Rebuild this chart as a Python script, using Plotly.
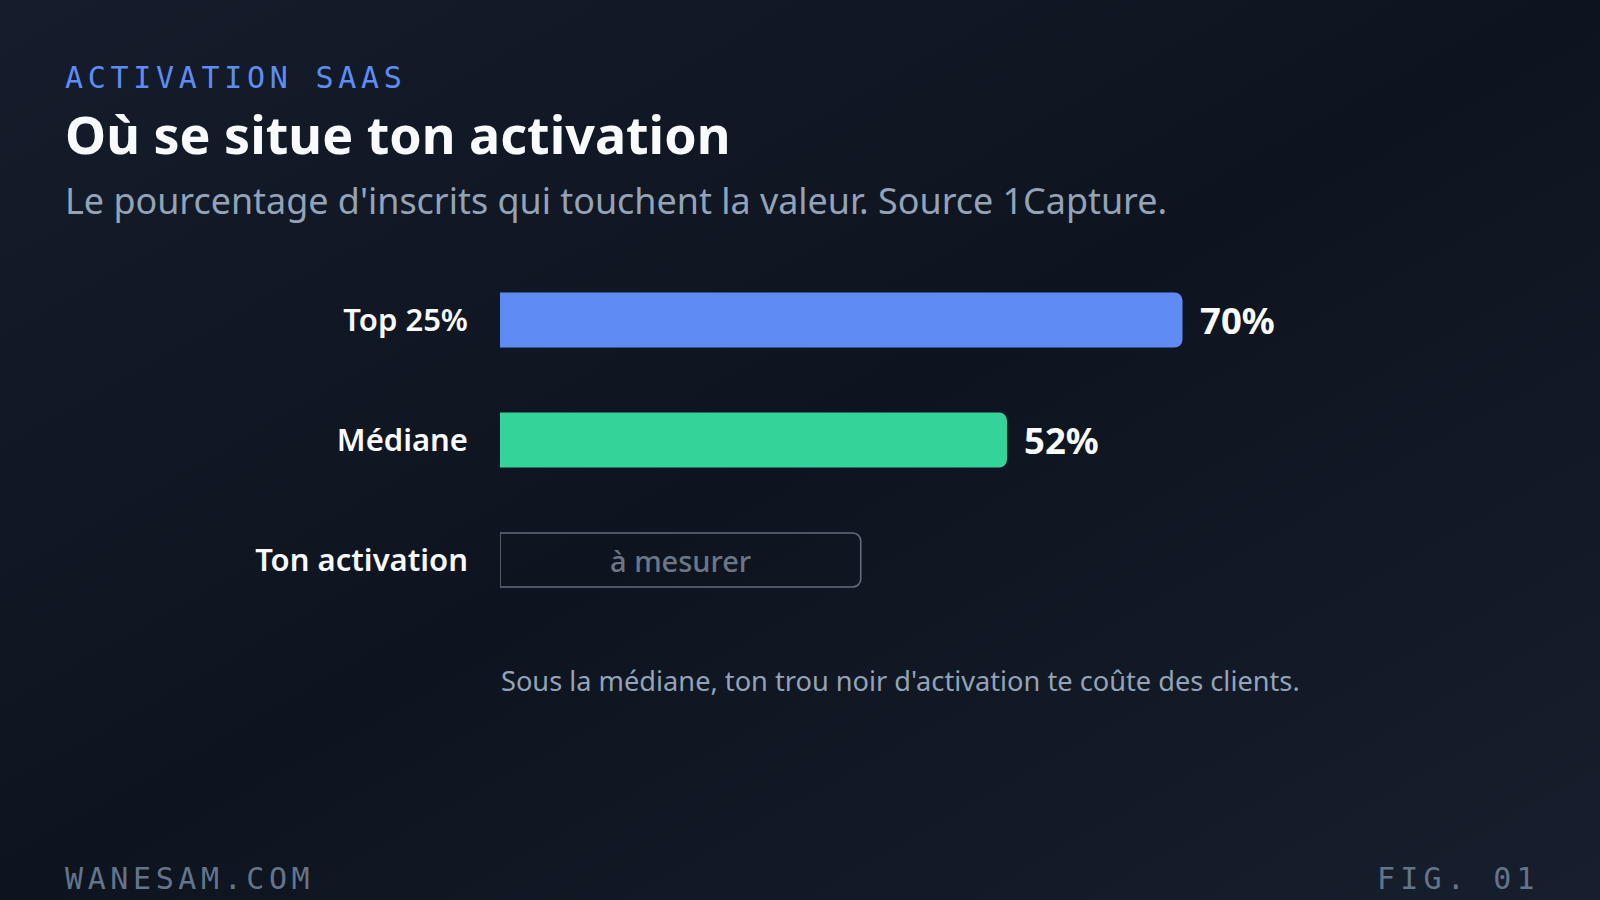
import base64
import plotly.graph_objects as go

# ---- data ----
categories = ["Top 25%", "Médiane", "Ton activation"]
values = [70, 52, None]
value_labels = ["70%", "52%", ""]
bar_colors = ["#5f8cf4", "#34d399", "rgba(0,0,0,0)"]
placeholder_span = [None, None, 37]
placeholder_label = "à mesurer"

kicker = "ACTIVATION SAAS"
title = "Où se situe ton activation"
subtitle = "Le pourcentage d'inscrits qui touchent la valeur. Source 1Capture."
note = "Sous la médiane, ton trou noir d'activation te coûte des clients."
footer_left = "WANESAM.COM"
footer_right = "FIG. 01"

W, H = 1600, 900
BG = "#10161f"
SANS = "Noto Sans"
MONO = "DejaVu Sans Mono"


def px(x):
    return x / W


def py(y):
    return 1 - y / H


# subtle background gradient as an inline SVG image
svg = f"""<svg xmlns='http://www.w3.org/2000/svg' width='{W}' height='{H}'>
<defs>
<linearGradient id='g' x1='0' y1='0' x2='1' y2='1'>
<stop offset='0' stop-color='#151c2b'/>
<stop offset='0.5' stop-color='#0e141f'/>
<stop offset='1' stop-color='#171e2d'/>
</linearGradient>
</defs>
<rect width='{W}' height='{H}' fill='url(#g)'/>
</svg>"""
bg_uri = "data:image/svg+xml;base64," + base64.b64encode(svg.encode()).decode()

fig = go.Figure()

fig.add_trace(go.Bar(
    y=categories, x=values, orientation="h",
    marker=dict(color=bar_colors, line=dict(width=0)),
    width=0.46, hoverinfo="skip", showlegend=False,
))
fig.add_trace(go.Bar(
    y=categories, x=placeholder_span, orientation="h",
    marker=dict(color="rgba(0,0,0,0)", line=dict(color="#626d7e", width=1.6)),
    width=0.45, hoverinfo="skip", showlegend=False,
))

annotations = []
for cat, v, lab in zip(categories, values, value_labels):
    if v is not None:
        annotations.append(dict(
            x=v, y=cat, xref="x", yref="y", text=f"<b>{lab}</b>",
            xanchor="left", yanchor="middle", xshift=15, showarrow=False,
            font=dict(family=SANS, size=36.5, color="#f8fafc"),
        ))
for cat, v in zip(categories, placeholder_span):
    if v is not None:
        annotations.append(dict(
            x=v / 2, y=cat, xref="x", yref="y", text=placeholder_label,
            xanchor="center", yanchor="middle", showarrow=False,
            font=dict(family=SANS, size=29, color="#6b7788", weight=500),
        ))

annotations += [
    dict(x=px(63), y=py(77), xref="paper", yref="paper",
         text=f'<span style="letter-spacing:4.7px">{kicker}</span>',
         xanchor="left", yanchor="middle", showarrow=False,
         font=dict(family=MONO, size=30, color="#5f8cf4")),
    dict(x=px(63), y=py(134), xref="paper", yref="paper", text=f"<b>{title}</b>",
         xanchor="left", yanchor="middle", showarrow=False,
         font=dict(family=SANS, size=52, color="#f8fafc")),
    dict(x=px(63), y=py(200), xref="paper", yref="paper", text=subtitle,
         xanchor="left", yanchor="middle", showarrow=False,
         font=dict(family=SANS, size=35.9, color="#94a3b8")),
    dict(x=px(499), y=py(680), xref="paper", yref="paper", text=note,
         xanchor="left", yanchor="middle", showarrow=False,
         font=dict(family=SANS, size=27.2, color="#94a3b8")),
    dict(x=px(63), y=py(878), xref="paper", yref="paper",
         text=f'<span style="letter-spacing:4.6px">{footer_left}</span>',
         xanchor="left", yanchor="middle", showarrow=False,
         font=dict(family=MONO, size=30, color="#64748b")),
    dict(x=px(1542), y=py(878), xref="paper", yref="paper",
         text=f'<span style="letter-spacing:5.2px">{footer_right}</span>',
         xanchor="right", yanchor="middle", showarrow=False,
         font=dict(family=MONO, size=30, color="#64748b")),
]

fig.update_layout(
    width=W, height=H,
    margin=dict(l=0, r=0, t=0, b=0),
    paper_bgcolor=BG, plot_bgcolor="rgba(0,0,0,0)",
    barmode="overlay", barcornerradius=8,
    images=[dict(source=bg_uri, xref="paper", yref="paper", x=0, y=1,
                 sizex=1, sizey=1, xanchor="left", yanchor="top",
                 sizing="stretch", layer="below")],
    xaxis=dict(domain=[px(500), px(1475)], range=[0, 100], visible=False, fixedrange=True),
    yaxis=dict(domain=[py(620), py(260)], range=[2.5, -0.5],
               categoryorder="array", categoryarray=categories,
               showgrid=False, zeroline=False, showline=False,
               ticks="", ticklabelstandoff=31,
               tickfont=dict(family=SANS, size=31, color="#f8fafc", weight=600),
               fixedrange=True),
    annotations=annotations,
)

fig.write_html(
    "out.html",
    config={"displayModeBar": False},
    post_script="document.body.style.margin='0';document.body.style.overflow='hidden';",
)
